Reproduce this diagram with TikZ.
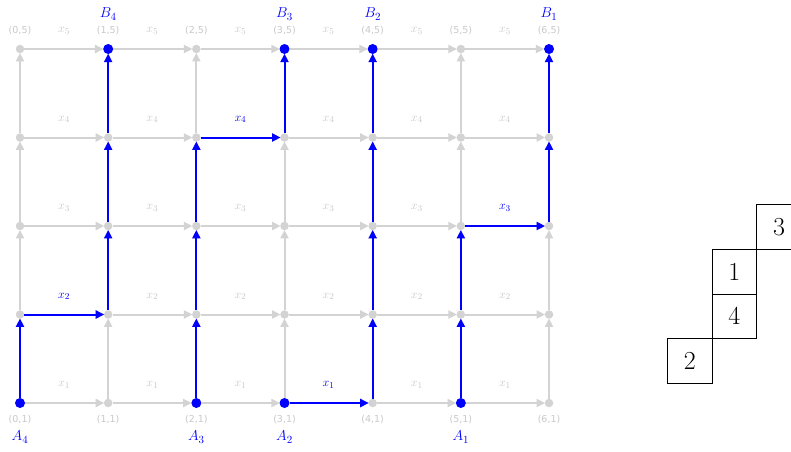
\documentclass[tikz,border=0pt]{standalone}
\usepackage{fontspec}
\newfontfamily\coordfont{DejaVu Sans}
\usetikzlibrary{arrows.meta,calc}
\definecolor{lg}{RGB}{211,211,211}
\definecolor{lgt}{RGB}{200,200,200}
\definecolor{bl}{RGB}{0,0,255}
\begin{document}
\begin{tikzpicture}[x=1pt,y=-1pt,
  vtx/.style={circle,fill=lg,inner sep=0pt,minimum size=8.5pt},
  bvtx/.style={circle,fill=bl,inner sep=0pt,minimum size=10pt},
  gedge/.style={draw=lg,line width=2pt,-{Triangle[length=8.5pt,width=8pt]},shorten >=-0.5pt},
  bedge/.style={draw=bl,line width=2pt,-{Triangle[length=8.5pt,width=8pt]},shorten >=-0.5pt},
  glab/.style={text=lgt,font=\fontsize{13}{15}\selectfont},
  blab/.style={text=bl,font=\fontsize{13}{15}\selectfont},
  clab/.style={text=lgt,font=\coordfont\fontsize{9.5}{11}\selectfont},
  ablab/.style={text=bl,font=\fontsize{15.5}{18}\selectfont},
  cell/.style={draw,line width=0.8pt,minimum size=44.6pt,inner sep=0pt,font=\fontsize{26}{30}\selectfont}
]
\useasboundingbox (0,0) rectangle (791,451);
% vertices
\foreach \c in {0,...,6}{
  \foreach \r in {1,...,5}{
    \pgfmathsetmacro\X{20+88.17*\c}
    \pgfmathsetmacro\Y{403-88.5*(\r-1)}
    \pgfmathtruncatemacro\key{10*\c+\r}
    \ifnum\key=1 \node[bvtx] (n-\c-\r) at (\X,\Y) {};
    \else\ifnum\key=21 \node[bvtx] (n-\c-\r) at (\X,\Y) {};
    \else\ifnum\key=31 \node[bvtx] (n-\c-\r) at (\X,\Y) {};
    \else\ifnum\key=51 \node[bvtx] (n-\c-\r) at (\X,\Y) {};
    \else\ifnum\key=15 \node[bvtx] (n-\c-\r) at (\X,\Y) {};
    \else\ifnum\key=35 \node[bvtx] (n-\c-\r) at (\X,\Y) {};
    \else\ifnum\key=45 \node[bvtx] (n-\c-\r) at (\X,\Y) {};
    \else\ifnum\key=65 \node[bvtx] (n-\c-\r) at (\X,\Y) {};
    \else \node[vtx] (n-\c-\r) at (\X,\Y) {};
    \fi\fi\fi\fi\fi\fi\fi\fi
  }
}
% coordinate labels
\foreach \c in {0,...,6}{
  \node[clab] (t-\c) at ($(n-\c-5)+(0,-18)$) {(\c,5)};
  \node[clab] (b-\c) at ($(n-\c-1)+(0,17)$) {(\c,1)};
}
% gray horizontal edges and labels
\foreach \r in {1,...,5}{
  \foreach \c [evaluate=\c as \d using int(\c+1)] in {0,...,5}{
    \draw[gedge] (n-\c-\r) -- (n-\d-\r);
    \pgfmathsetmacro\X{20+88.17*(\c+0.5)}
    \pgfmathsetmacro\Y{403-88.5*(\r-1)-18}
    \pgfmathtruncatemacro\key{10*\c+\r}
    \ifnum\key=2 \else\ifnum\key=24 \else\ifnum\key=31 \else\ifnum\key=53 \else
      \node[glab] (l-\c-\r) at (\X,\Y) {$x_{\r}$};
    \fi\fi\fi\fi
  }
}
% gray vertical edges
\foreach \c in {0,...,6}{
  \foreach \r [evaluate=\r as \s using int(\r+1)] in {1,...,4}{
    \draw[gedge] (n-\c-\r) -- (n-\c-\s);
  }
}
% blue paths
\draw[bedge] (n-0-1) -- (n-0-2);
\draw[bedge] (n-0-2) -- (n-1-2);
\draw[bedge] (n-1-2) -- (n-1-3);
\draw[bedge] (n-1-3) -- (n-1-4);
\draw[bedge] (n-1-4) -- (n-1-5);
\draw[bedge] (n-2-1) -- (n-2-2);
\draw[bedge] (n-2-2) -- (n-2-3);
\draw[bedge] (n-2-3) -- (n-2-4);
\draw[bedge] (n-2-4) -- (n-3-4);
\draw[bedge] (n-3-4) -- (n-3-5);
\draw[bedge] (n-3-1) -- (n-4-1);
\draw[bedge] (n-4-1) -- (n-4-2);
\draw[bedge] (n-4-2) -- (n-4-3);
\draw[bedge] (n-4-3) -- (n-4-4);
\draw[bedge] (n-4-4) -- (n-4-5);
\draw[bedge] (n-5-1) -- (n-5-2);
\draw[bedge] (n-5-2) -- (n-5-3);
\draw[bedge] (n-5-3) -- (n-6-3);
\draw[bedge] (n-6-3) -- (n-6-4);
\draw[bedge] (n-6-4) -- (n-6-5);
% blue labels
\node[blab] (l-0-2) at ($(n-0-2)!0.5!(n-1-2)+(0,-18)$) {$x_2$};
\node[blab] (l-2-4) at ($(n-2-4)!0.5!(n-3-4)+(0,-18)$) {$x_4$};
\node[blab] (l-3-1) at ($(n-3-1)!0.5!(n-4-1)+(0,-18)$) {$x_1$};
\node[blab] (l-5-3) at ($(n-5-3)!0.5!(n-6-3)+(0,-18)$) {$x_3$};
% A and B labels
\node[ablab] (B4) at ($(n-1-5)+(0,-35)$) {$B_4$};
\node[ablab] (B3) at ($(n-3-5)+(0,-35)$) {$B_3$};
\node[ablab] (B2) at ($(n-4-5)+(0,-35)$) {$B_2$};
\node[ablab] (B1) at ($(n-6-5)+(0,-35)$) {$B_1$};
\node[ablab] (A4) at ($(n-0-1)+(0,34)$) {$A_4$};
\node[ablab] (A3) at ($(n-2-1)+(0,34)$) {$A_3$};
\node[ablab] (A2) at ($(n-3-1)+(0,34)$) {$A_2$};
\node[ablab] (A1) at ($(n-5-1)+(0,34)$) {$A_1$};
% tableau
\node[cell] (c3) at (779.0,227.0) {3};
\node[cell] (c1) at (734.4,271.6) {1};
\node[cell] (c4) at (734.4,316.2) {4};
\node[cell] (c2) at (689.8,360.8) {2};
\end{tikzpicture}
\end{document}
